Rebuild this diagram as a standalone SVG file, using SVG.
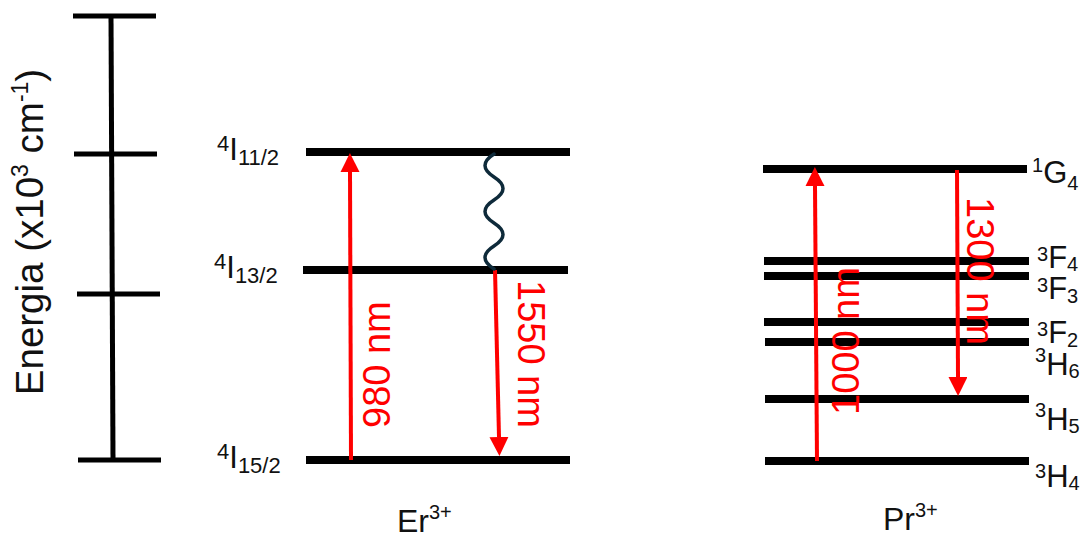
<svg xmlns="http://www.w3.org/2000/svg" width="1092" height="538" viewBox="0 0 1092 538">
  <style>
    .axis { stroke: #000; stroke-width: 5; fill: none; }
    .level { stroke: #000; stroke-width: 8; fill: none; }
    .trans { stroke: #ff0000; stroke-width: 4; fill: none; marker-end: url(#head); }
    .wave { stroke: #0e2a3a; stroke-width: 3.5; fill: none; stroke-linecap: round; }
    text { font-family: "Liberation Sans", Arial, sans-serif; fill: #111; }
    .nm { fill: #ff0000; font-size: 38px; }
    .ion { font-size: 32px; }
    .ionsup { font-size: 20px; }
    .erI { font-size: 31px; }
    .erS { font-size: 22px; }
    .prL { font-size: 31px; }
    .prS { font-size: 20px; }
  </style>
  <defs>
    <marker id="head" markerUnits="userSpaceOnUse" markerWidth="20" markerHeight="20" refX="0" refY="9.5" orient="auto">
      <path d="M0,0 L19,9.5 L0,19 Z" fill="#ff0000"/>
    </marker>
  </defs>

  <!-- energy axis -->
  <g id="axis">
    <line class="axis" x1="111" y1="16" x2="113" y2="460"/>
    <line class="axis" x1="73" y1="16" x2="156" y2="16"/>
    <line class="axis" x1="74" y1="154" x2="157" y2="154"/>
    <line class="axis" x1="77" y1="294" x2="160" y2="294"/>
    <line class="axis" x1="78" y1="460" x2="161" y2="460"/>
    <text transform="translate(43,232) rotate(-90)" text-anchor="middle" font-size="38.5">Energia (x10<tspan font-size="23" dy="-15">3</tspan><tspan dy="15"> cm</tspan><tspan font-size="23" dy="-15">-1</tspan><tspan dy="15">)</tspan></text>
  </g>

  <!-- Er3+ levels -->
  <g id="er-4I11-2">
    <line class="level" x1="306" y1="152" x2="570" y2="152"/>
    <text><tspan class="erS" x="217" y="151">4</tspan><tspan class="erI" y="160">I</tspan><tspan class="erS" y="165">11/2</tspan></text>
  </g>
  <g id="er-4I13-2">
    <line class="level" x1="303" y1="270" x2="568" y2="270"/>
    <text><tspan class="erS" x="214" y="269">4</tspan><tspan class="erI" y="278">I</tspan><tspan class="erS" y="283">13/2</tspan></text>
  </g>
  <g id="er-4I15-2">
    <line class="level" x1="306" y1="460" x2="570" y2="460"/>
    <text><tspan class="erS" x="217" y="459">4</tspan><tspan class="erI" y="468">I</tspan><tspan class="erS" y="473">15/2</tspan></text>
  </g>
  <g id="er-label">
    <text x="397" y="532" class="ion">Er<tspan class="ionsup" dy="-13">3+</tspan></text>
  </g>

  <!-- Pr3+ levels -->
  <g id="pr-1G4">
    <line class="level" x1="763" y1="169" x2="1027" y2="169"/>
    <text><tspan class="prS" x="1032" y="172">1</tspan><tspan class="prL" y="183">G</tspan><tspan class="prS" y="190">4</tspan></text>
  </g>
  <g id="pr-3F4">
    <line class="level" x1="764" y1="261" x2="1029" y2="261"/>
    <text><tspan class="prS" x="1037" y="261">3</tspan><tspan class="prL" y="268">F</tspan><tspan class="prS" y="271">4</tspan></text>
  </g>
  <g id="pr-3F3">
    <line class="level" x1="764" y1="276" x2="1029" y2="276"/>
    <text><tspan class="prS" x="1037" y="292">3</tspan><tspan class="prL" y="299">F</tspan><tspan class="prS" y="303">3</tspan></text>
  </g>
  <g id="pr-3F2">
    <line class="level" x1="764" y1="322" x2="1029" y2="322"/>
    <text><tspan class="prS" x="1037" y="336">3</tspan><tspan class="prL" y="343">F</tspan><tspan class="prS" y="347">2</tspan></text>
  </g>
  <g id="pr-3H6">
    <line class="level" x1="765" y1="342" x2="1029" y2="342"/>
    <text><tspan class="prS" x="1035" y="362">3</tspan><tspan class="prL" y="375">H</tspan><tspan class="prS" y="378">6</tspan></text>
  </g>
  <g id="pr-3H5">
    <line class="level" x1="765" y1="399" x2="1029" y2="399"/>
    <text><tspan class="prS" x="1035" y="417">3</tspan><tspan class="prL" y="430">H</tspan><tspan class="prS" y="433">5</tspan></text>
  </g>
  <g id="pr-3H4">
    <line class="level" x1="765" y1="461" x2="1029" y2="461"/>
    <text><tspan class="prS" x="1035" y="478">3</tspan><tspan class="prL" y="487">H</tspan><tspan class="prS" y="490">4</tspan></text>
  </g>
  <g id="pr-label">
    <text x="883" y="530" class="ion">Pr<tspan class="ionsup" dy="-13">3+</tspan></text>
  </g>

  <!-- transitions -->
  <g id="connectors">
    <line class="trans" x1="351" y1="460" x2="350" y2="172"/>
    <line class="trans" x1="495" y1="270" x2="499" y2="437"/>
    <path class="wave" d="M494,154 q-18,11.5 0,23 t0,23 t0,23 t0,23 t0,23"/>
    <line class="trans" x1="817" y1="461" x2="815" y2="186"/>
    <line class="trans" x1="957" y1="170" x2="958" y2="377"/>
    <text class="nm" transform="translate(390,428) rotate(-90)">980 nm</text>
    <text class="nm" transform="translate(518,280) rotate(90)">1550 nm</text>
    <text class="nm" transform="translate(859,415) rotate(-90)">1000 nm</text>
    <text class="nm" transform="translate(967,197) rotate(90)">1300 nm</text>
  </g>
</svg>
